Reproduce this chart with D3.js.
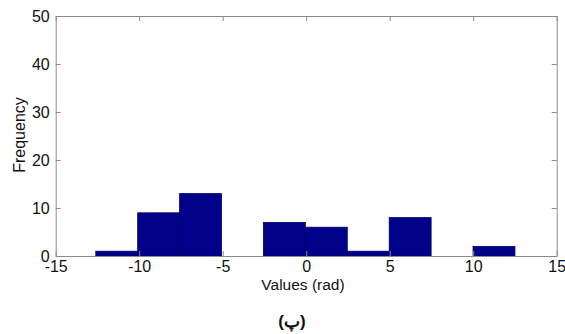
<!DOCTYPE html>
<html>
<head>
<meta charset="utf-8">
<script src="https://cdn.jsdelivr.net/npm/d3@7/dist/d3.min.js"></script>
<style>
  html, body { margin: 0; padding: 0; background: #fff; }
  svg { display: block; }
  text { font-family: "Liberation Sans", Arial, sans-serif; fill: #111; }
</style>
</head>
<body>
<svg id="chart" width="565" height="334"></svg>
<script>
// Histogram data
const binEdges = [-12.6, -10.09, -7.58, -5.07, -2.56, -0.05, 2.46, 4.97, 7.48, 9.99, 12.5];
const counts   = [1, 9, 13, 0, 7, 6, 1, 8, 0, 2];
const xTicks = [-15, -10, -5, 0, 5, 10, 15];
const yTicks = [0, 10, 20, 30, 40, 50];
const xLabel = "Values (rad)";
const yLabel = "Frequency";
const caption = "(پ)";

const svg = d3.select("#chart");
const mLeft = 55.7, mRight = 556.7, mTop = 16, mBottom = 256;
const x = d3.scaleLinear().domain([-15, 15]).range([mLeft, mRight]);
const y = d3.scaleLinear().domain([0, 50]).range([mBottom, mTop]);

const bins = counts.map((c, i) => ({x0: binEdges[i], x1: binEdges[i + 1], n: c}));

// bars
svg.append("g").selectAll("rect")
  .data(bins.filter(d => d.n > 0))
  .join("rect")
  .attr("x", d => x(d.x0))
  .attr("y", d => y(d.n))
  .attr("width", d => x(d.x1) - x(d.x0))
  .attr("height", d => y(0) - y(d.n))
  .attr("fill", "#000088")
  .attr("stroke", "#00006a")
  .attr("stroke-width", 0.8);

const axisColor = "#8a8a8a";
const tickLen = 5;
const fmt = d => String(d);

const xAxis = d3.axisBottom(x).tickValues(xTicks).tickFormat(fmt)
  .tickSizeInner(-tickLen).tickSizeOuter(0).tickPadding(7);
const gx = svg.append("g").attr("transform", `translate(0,${mBottom})`).call(xAxis);
const gxt = svg.append("g").attr("transform", `translate(0,${mTop})`)
  .call(d3.axisTop(x).tickValues(xTicks).tickSizeInner(-tickLen).tickSizeOuter(0).tickFormat(""));
const gy = svg.append("g").attr("transform", `translate(${mLeft},0)`)
  .call(d3.axisLeft(y).tickValues(yTicks).tickFormat(fmt)
    .tickSizeInner(-tickLen).tickSizeOuter(0).tickPadding(9));
const gyr = svg.append("g").attr("transform", `translate(${mRight},0)`)
  .call(d3.axisRight(y).tickValues(yTicks).tickSizeInner(-tickLen).tickSizeOuter(0).tickFormat(""));

[gx, gxt, gy, gyr].forEach(g => {
  g.select(".domain").attr("stroke", axisColor).attr("stroke-width", 1);
  g.selectAll(".tick line").attr("stroke", axisColor);
});
gx.selectAll(".tick text").attr("font-size", 16).attr("fill", "#111")
  .attr("font-family", "Liberation Sans, Arial, sans-serif").attr("dy", "0.56em");
gy.selectAll(".tick text").attr("font-size", 16).attr("fill", "#111")
  .attr("font-family", "Liberation Sans, Arial, sans-serif").attr("dx", "3");

svg.append("text")
  .attr("x", 303).attr("y", 290)
  .attr("text-anchor", "middle").attr("font-size", 15.5)
  .text(xLabel);
svg.append("text")
  .attr("transform", "translate(25,135) rotate(-90)")
  .attr("text-anchor", "middle").attr("font-size", 16)
  .text(yLabel);
svg.append("text")
  .attr("x", 292).attr("y", 327)
  .attr("text-anchor", "middle").attr("font-size", 17).attr("font-weight", "bold")
  .attr("direction", "rtl")
  .text(caption);
</script>
</body>
</html>
